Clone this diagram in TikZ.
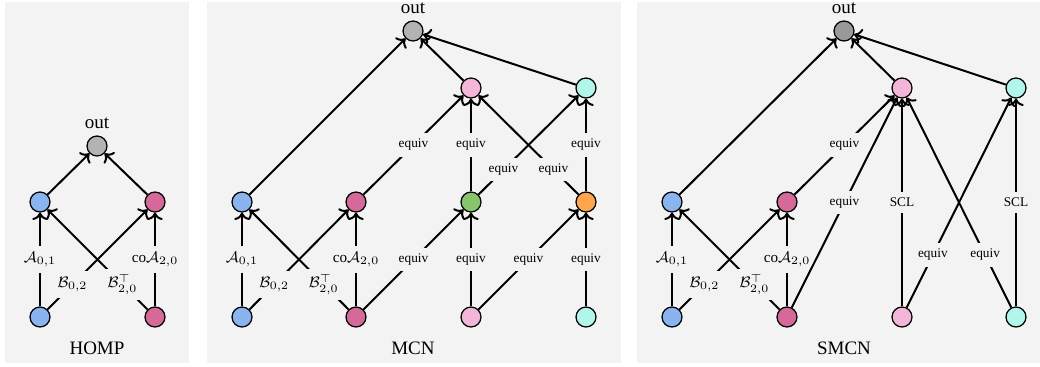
\documentclass[tikz,border=0pt]{standalone}
\usepackage{amsmath,amssymb}
\usepackage{fontspec}
\setmainfont{Liberation Serif}
\usetikzlibrary{arrows.meta}

\definecolor{panelbg}{HTML}{F3F3F3}
\definecolor{cblue}{HTML}{8AB4F0}
\definecolor{cmag}{HTML}{D5699A}
\definecolor{cpink}{HTML}{F4B6D8}
\definecolor{ccyan}{HTML}{B2F5EA}
\definecolor{cgreen}{HTML}{86C46E}
\definecolor{corange}{HTML}{FFA64D}
\definecolor{cgrayA}{HTML}{B3B3B3}
\definecolor{cgrayB}{HTML}{999999}

\begin{document}
\begin{tikzpicture}[x=0.526pt, y=0.526pt,
    vert/.style={circle, draw, line width=0.65pt, minimum size=10.5pt, inner sep=0pt},
    edge/.style={->, line width=1.05pt},
    lbl/.style={fill=panelbg, inner sep=3pt, font=\fontsize{7}{8}\selectfont},
    mlbl/.style={lbl, font=\fontsize{8}{9}\selectfont},
    title/.style={font=\fontsize{10}{12}\selectfont}]
    \useasboundingbox (0,0) rectangle (1040,366);
    % Panels
    \fill[panelbg] (5,3) rectangle (189,364);
    \fill[panelbg] (207,3) rectangle (621,364);
    \fill[panelbg] (637,3) rectangle (1040,364);

    % HOMP
    \node[vert, fill=cblue] (h-b0) at (40,49) {};
    \node[vert, fill=cmag] (h-b1) at (155,49) {};
    \node[vert, fill=cblue] (h-m0) at (40,164) {};
    \node[vert, fill=cmag] (h-m1) at (155,164) {};
    \node[vert, fill=cgrayA, label={[title]above:out}] (h-out) at (97,220) {};
    \node[title] (h-name) at (97,18) {HOMP};
    \draw[edge] (h-b0) -- node[mlbl] {$\mathcal{A}_{0,1}$} (h-m0);
    \draw[edge] (h-b0) -- node[mlbl, pos=0.25] {$\mathcal{B}_{0,2}$} (h-m1);
    \draw[edge] (h-b1) -- node[mlbl, pos=0.25] {$\mathcal{B}_{2,0}^{\top}$} (h-m0);
    \draw[edge] (h-b1) -- node[mlbl] {$\mathrm{co}\mathcal{A}_{2,0}$} (h-m1);
    \draw[edge] (h-m0) -- (h-out);
    \draw[edge] (h-m1) -- (h-out);

    % MCN
    \node[vert, fill=cblue] (m-b0) at (242,49) {};
    \node[vert, fill=cmag] (m-b1) at (356,49) {};
    \node[vert, fill=cpink] (m-b2) at (471,49) {};
    \node[vert, fill=ccyan] (m-b3) at (586,49) {};
    \node[vert, fill=cblue] (m-m0) at (242,164) {};
    \node[vert, fill=cmag] (m-m1) at (356,164) {};
    \node[vert, fill=cgreen] (m-m2) at (471,164) {};
    \node[vert, fill=corange] (m-m3) at (586,164) {};
    \node[vert, fill=cpink] (m-t0) at (471,278) {};
    \node[vert, fill=ccyan] (m-t1) at (586,278) {};
    \node[vert, fill=cgrayA, label={[title]above:out}] (m-out) at (413,335) {};
    \node[title] (m-name) at (413,18) {MCN};
    \draw[edge] (m-b0) -- node[mlbl] {$\mathcal{A}_{0,1}$} (m-m0);
    \draw[edge] (m-b0) -- node[mlbl, pos=0.25] {$\mathcal{B}_{0,2}$} (m-m1);
    \draw[edge] (m-b1) -- node[mlbl, pos=0.25] {$\mathcal{B}_{2,0}^{\top}$} (m-m0);
    \draw[edge] (m-b1) -- node[mlbl] {$\mathrm{co}\mathcal{A}_{2,0}$} (m-m1);
    \draw[edge] (m-b1) -- node[lbl] {equiv} (m-m2);
    \draw[edge] (m-b2) -- node[lbl] {equiv} (m-m2);
    \draw[edge] (m-b2) -- node[lbl] {equiv} (m-m3);
    \draw[edge] (m-b3) -- node[lbl] {equiv} (m-m3);
    \draw[edge] (m-m1) -- node[lbl] {equiv} (m-t0);
    \draw[edge] (m-m2) -- node[lbl] {equiv} (m-t0);
    \draw[edge] (m-m2) -- node[lbl, pos=0.25] {equiv} (m-t1);
    \draw[edge] (m-m3) -- node[lbl, pos=0.25] {equiv} (m-t0);
    \draw[edge] (m-m3) -- node[lbl] {equiv} (m-t1);
    \draw[edge] (m-m0) -- (m-out);
    \draw[edge] (m-t0) -- (m-out);
    \draw[edge] (m-t1) -- (m-out);

    % SMCN
    \node[vert, fill=cblue] (s-b0) at (672,49) {};
    \node[vert, fill=cmag] (s-b1) at (787,49) {};
    \node[vert, fill=cpink] (s-b2) at (902,49) {};
    \node[vert, fill=ccyan] (s-b3) at (1016,49) {};
    \node[vert, fill=cblue] (s-m0) at (672,164) {};
    \node[vert, fill=cmag] (s-m1) at (787,164) {};
    \node[vert, fill=cpink] (s-t0) at (902,278) {};
    \node[vert, fill=ccyan] (s-t1) at (1016,278) {};
    \node[vert, fill=cgrayB, label={[title]above:out}] (s-out) at (844,335) {};
    \node[title] (s-name) at (844,18) {SMCN};
    \draw[edge] (s-b0) -- node[mlbl] {$\mathcal{A}_{0,1}$} (s-m0);
    \draw[edge] (s-b0) -- node[mlbl, pos=0.25] {$\mathcal{B}_{0,2}$} (s-m1);
    \draw[edge] (s-b1) -- node[mlbl, pos=0.25] {$\mathcal{B}_{2,0}^{\top}$} (s-m0);
    \draw[edge] (s-b1) -- node[mlbl] {$\mathrm{co}\mathcal{A}_{2,0}$} (s-m1);
    \draw[edge] (s-m1) -- node[lbl] {equiv} (s-t0);
    \draw[edge] (s-b1) -- node[lbl] {equiv} (s-t0);
    \draw[edge] (s-b2) -- node[lbl] {SCL} (s-t0);
    \draw[edge] (s-b2) -- node[lbl, pos=0.25] {equiv} (s-t1);
    \draw[edge] (s-b3) -- node[lbl, pos=0.25] {equiv} (s-t0);
    \draw[edge] (s-b3) -- node[lbl] {SCL} (s-t1);
    \draw[edge] (s-m0) -- (s-out);
    \draw[edge] (s-t0) -- (s-out);
    \draw[edge] (s-t1) -- (s-out);
\end{tikzpicture}
\end{document}
